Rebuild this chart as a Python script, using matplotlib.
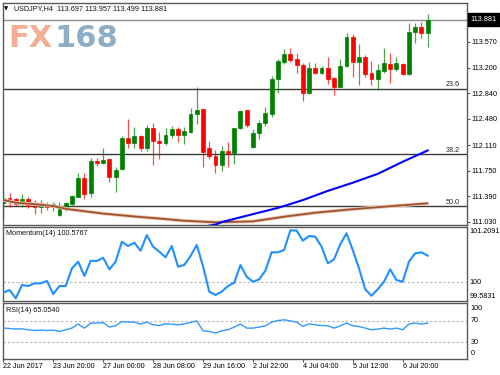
import matplotlib
matplotlib.use("Agg")
import matplotlib.pyplot as plt
from matplotlib import font_manager
import numpy as np

# ---------------- data ----------------
opens = [111.294, 111.360, 111.346, 111.280, 111.346, 111.280, 111.242, 111.280, 111.242, 111.124,
         111.205, 111.280, 111.383, 111.642, 111.439, 111.886, 111.862, 111.910, 111.664, 111.769,
         112.214, 112.144, 112.238, 112.065, 112.347, 112.172, 112.135, 112.252, 112.333, 112.252,
         112.299, 112.544, 112.615, 112.065, 111.956, 111.829, 112.031, 112.003, 112.347, 112.605,
         112.088, 112.276, 112.417, 112.548, 113.038, 113.286, 113.395, 113.324, 113.239, 112.840,
         113.193, 113.131, 113.201, 113.052, 112.933, 113.225, 113.638, 113.278, 113.357, 113.122,
         113.038, 113.159, 113.254, 113.179, 113.254, 113.113, 113.709, 113.780, 113.697]
highs = [111.453, 111.439, 111.364, 111.416, 111.383, 111.336, 111.336, 111.312, 111.312, 111.312,
         111.312, 111.406, 111.712, 111.712, 111.924, 111.932, 112.064, 111.924, 111.797, 112.238,
         112.474, 112.369, 112.252, 112.393, 112.417, 112.299, 112.347, 112.379, 112.369, 112.369,
         112.629, 112.925, 112.625, 112.172, 112.041, 112.097, 112.158, 112.350, 112.605, 112.610,
         112.333, 112.464, 112.643, 113.084, 113.320, 113.461, 113.475, 113.404, 113.272, 113.286,
         113.263, 113.225, 113.348, 113.075, 113.320, 113.686, 113.672, 113.531, 113.381, 113.300,
         113.254, 113.475, 113.413, 113.356, 113.268, 113.828, 113.836, 113.850, 113.957]
lows = [111.078, 111.242, 111.251, 111.242, 111.219, 111.134, 111.157, 111.195, 111.185, 111.110,
        111.181, 111.265, 111.383, 111.346, 111.383, 111.815, 111.843, 111.594, 111.453, 111.759,
        112.065, 112.065, 112.031, 112.031, 111.829, 111.910, 112.112, 112.206, 112.158, 112.126,
        112.276, 112.408, 111.797, 111.910, 111.721, 111.749, 111.806, 111.843, 112.333, 112.365,
        112.065, 112.192, 112.379, 112.511, 112.840, 113.254, 113.286, 113.122, 112.736, 112.831,
        113.112, 113.112, 112.972, 112.816, 112.925, 113.207, 113.066, 112.957, 113.066, 112.957,
        112.887, 113.131, 112.988, 113.159, 113.105, 113.105, 113.545, 113.616, 113.499]
closes = [111.364, 111.326, 111.280, 111.346, 111.251, 111.233, 111.266, 111.242, 111.280, 111.242,
          111.289, 111.392, 111.642, 111.416, 111.886, 111.862, 111.900, 111.664, 111.759, 112.214,
          112.135, 112.238, 112.065, 112.347, 112.168, 112.135, 112.252, 112.333, 112.252, 112.313,
          112.544, 112.605, 112.013, 111.956, 111.829, 112.031, 112.003, 112.347, 112.591, 112.394,
          112.285, 112.426, 112.558, 113.038, 113.296, 113.395, 113.310, 113.239, 112.840, 113.193,
          113.122, 113.201, 113.038, 112.933, 113.225, 113.638, 113.286, 113.348, 113.113, 113.038,
          113.169, 113.263, 113.179, 113.263, 113.113, 113.709, 113.780, 113.695, 113.881]

ma_blue_bars = [32, 33, 34, 35, 39, 44, 48, 52, 56, 60, 64, 68]
ma_blue_vals = [110.960, 110.975, 110.990, 111.025, 111.115, 111.225, 111.335, 111.465, 111.580,
                111.705, 111.875, 112.035]
ma_brown_bars = [0, 2, 5, 8, 10, 16, 21, 25, 29, 34, 40, 45, 50, 56, 61, 68]
ma_brown_vals = [111.336, 111.298, 111.278, 111.251, 111.212, 111.145, 111.104, 111.075, 111.044,
                 111.022, 111.035, 111.101, 111.157, 111.207, 111.242, 111.289]

fib_levels = [112.897, 111.980, 111.247]
fib_labels = ["23.6", "38.2", "50.0"]
bid_price = 113.881

momentum = [99.757, 99.817, 99.634, 99.928, 99.905, 99.965, 99.965, 100.016, 99.729, 99.905,
            99.905, 100.297, 100.442, 100.126, 100.464, 100.458, 100.531, 100.274, 100.442, 100.884,
            100.789, 100.862, 100.685, 101.032, 100.774, 100.663, 100.540, 100.789, 100.332, 100.369,
            100.568, 100.811, 100.347, 99.780, 99.707, 99.780, 99.905, 99.978, 100.369, 100.111,
            100.000, 100.053, 100.244, 100.650, 100.650, 100.701, 101.132, 101.132, 100.906, 101.010,
            100.995, 100.774, 100.407, 100.495, 100.827, 101.070, 100.701, 100.297, 99.833, 99.691,
            99.833, 100.000, 100.274, 100.038, 100.000, 100.442, 100.628, 100.650, 100.5767]
rsi = [55.9, 55.2, 54.1, 54.6, 52.8, 51.5, 52.2, 51.5, 52.2, 49.6,
       52.8, 55.9, 63.3, 55.9, 65.2, 65.2, 66.3, 57.8, 60.2, 68.1,
       67.0, 67.0, 63.3, 67.0, 62.0, 60.7, 63.9, 63.3, 62.0, 63.9,
       66.3, 69.4, 50.9, 49.6, 46.7, 50.9, 52.8, 57.8, 63.3, 55.9,
       55.9, 57.8, 60.2, 67.0, 70.0, 71.3, 69.4, 67.0, 58.9, 63.9,
       62.0, 60.7, 60.2, 55.9, 60.2, 65.2, 60.2, 58.9, 55.9, 52.8,
       54.1, 55.9, 54.1, 55.9, 52.8, 63.3, 65.2, 63.3, 65.054]

price_ticks = [113.570, 113.200, 112.840, 112.480, 112.110, 111.750, 111.390, 111.030]
price_tick_labels = ["113.570", "113.200", "112.840", "112.480", "112.110", "111.750", "111.390", "111.030"]
time_tick_bars = [0, 8, 16, 24, 32, 40, 48, 56, 64]
time_tick_labels = ["22 Jun 2017", "23 Jun 20:00", "27 Jun 00:00", "28 Jun 08:00", "29 Jun 16:00",
                    "2 Jul 22:00", "4 Jul 04:00", "5 Jul 12:00", "6 Jul 20:00"]
mom_min, mom_max = 99.5831, 101.2091

# ---------------- fonts ----------------
small = "Liberation Sans"
FS = 5.2

W, H = 500, 375
fig = plt.figure(figsize=(5, 3.75), dpi=100)


def rect(x0, y0, x1, y1):
    return [x0 / W, 1 - y1 / H, (x1 - x0) / W, (y1 - y0) / H]


ax = fig.add_axes(rect(3, 3, 466.5, 225))
axm = fig.add_axes(rect(3, 227, 466.5, 300.6))
axr = fig.add_axes(rect(3, 303, 466.5, 358.5))

spine_col = "#5a5a5a"
for a in (ax, axm, axr):
    a.set_xlim(-0.05, 74.23)
    for s in a.spines.values():
        s.set_color(spine_col)
        s.set_linewidth(1.0)
    a.set_facecolor("white")

# ---------------- main ----------------
o = np.array(opens); h = np.array(highs); l = np.array(lows); c = np.array(closes)
x = np.arange(len(o))
cols = np.where(c >= o, "#008000", "#FF0000")
ax.vlines(x, l, h, colors=cols, lw=0.9, alpha=0.7, zorder=3)
ax.bar(x, np.abs(c - o), bottom=np.minimum(o, c), width=0.62, color=cols,
       edgecolor=cols, linewidth=0.5, zorder=4)

for v, lab in zip(fib_levels, fib_labels):
    ax.axhline(v, color="#3a3a3a", lw=1.0, zorder=2)
    ax.annotate(lab, xy=(0.985, v), xycoords=("axes fraction", "data"), xytext=(0, 0.6),
                textcoords="offset points", ha="right", va="bottom", fontsize=FS,
                family=small, color="#222222")
ax.axhline(bid_price, color="#8c8c8c", lw=1.0, zorder=2)

ax.plot(ma_brown_bars, ma_brown_vals, color="#E9C9B6", lw=2.6, zorder=5, solid_capstyle="butt")
ax.plot(ma_brown_bars, ma_brown_vals, color="#A0522D", lw=1.3, zorder=6)
ax.plot(ma_blue_bars, ma_blue_vals, color="#0000FF", lw=1.5, zorder=6)

ax.set_ylim(110.984, 114.114)
ax.set_xticks([])
ax.yaxis.tick_right()
ax.set_yticks(price_ticks)
ax.set_yticklabels(price_tick_labels, family=small, fontsize=FS)
ax.tick_params(axis="y", length=2, width=0.8, pad=1.5, colors="#000000")
ax.tick_params(axis="y", color=spine_col)

ax.annotate("113.881", xy=(1, bid_price), xycoords=("axes fraction", "data"), xytext=(2.6, 0),
            textcoords="offset points", ha="left", va="center", fontsize=FS, family=small,
            color="white", zorder=10, annotation_clip=False,
            bbox=dict(boxstyle="square,pad=0.35", fc="black", ec="black"))

# header + watermark
fig.text(4 / W, 1 - 8.6 / H, "\u25BC", fontsize=4, va="center", ha="left", color="#111111")
fig.text(14 / W, 1 - 8.6 / H, "USDJPY,H4  113.697 113.957 113.499 113.881", fontsize=FS,
         family=small, va="center", ha="left", color="#111111")
fig.text(8 / W, 1 - 46.7 / H, "FX", fontsize=22, fontweight="bold", color="#F3AE94",
         va="baseline", ha="left", family="DejaVu Sans")
fig.text(55 / W, 1 - 46.7 / H, "168", fontsize=22, fontweight="bold", color="#8DAEC6",
         va="baseline", ha="left", family="DejaVu Sans")

# ---------------- momentum ----------------
axm.plot(x, momentum, color="#1E90FF", lw=1.5, zorder=3)
axm.axhline(100, color="#b4b4b4", lw=0.8, ls=(0, (2, 2)), zorder=2)
axm.set_ylim(mom_min, mom_max)
axm.set_xticks([]); axm.set_yticks([])
axm.text(0.006, 0.914, "Momentum(14) 100.5767", transform=axm.transAxes, fontsize=FS,
         family=small, va="center", ha="left", color="#111111")
for val, lab, dy in [(mom_max, "101.2091", -2.9), (100, "100", -0.3), (mom_min, "99.5831", 3.3)]:
    axm.annotate(lab, xy=(1, val), xycoords=("axes fraction", "data"), xytext=(2.2, dy),
                 textcoords="offset points", ha="left", va="center", fontsize=FS, family=small,
                 annotation_clip=False)

# ---------------- RSI ----------------
axr.plot(x, rsi, color="#3399FF", lw=1.0, zorder=3)
for lv in (70, 30):
    axr.axhline(lv, color="#b4b4b4", lw=0.8, ls=(0, (2, 2)), zorder=2)
axr.set_ylim(-0.5, 102.5)
axr.set_yticks([])
axr.text(0.006, 0.861, "RSI(14) 65.0540", transform=axr.transAxes, fontsize=FS,
         family=small, va="center", ha="left", color="#111111")
for val, lab, dy in [(100, "100", -3.2), (70, "70", 0), (30, "30", 0), (0, "0", 3.7)]:
    axr.annotate(lab, xy=(1, val), xycoords=("axes fraction", "data"), xytext=(2.8, dy),
                 textcoords="offset points", ha="left", va="center", fontsize=FS, family=small,
                 annotation_clip=False)
axr.set_xticks(time_tick_bars)
axr.set_xticklabels(time_tick_labels, family=small, fontsize=FS, ha="left")
axr.tick_params(axis="x", length=2.5, width=0.8, pad=1.0, color=spine_col)

fig.savefig("out.png", dpi=100, facecolor="white")
